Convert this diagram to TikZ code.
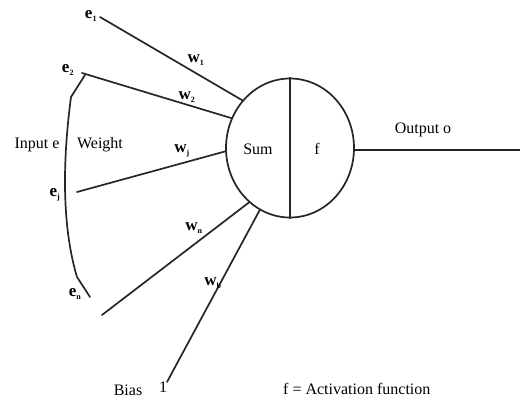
\documentclass[tikz,border=0pt]{standalone}
\usepackage{fontspec}
\setmainfont{Liberation Serif}
\usetikzlibrary{shapes.geometric}
\begin{document}
\begin{tikzpicture}[x=1pt,y=-1pt,
  wire/.style={line width=1.7pt,line join=round,line cap=round,color=black!85},
  txt/.style={inner sep=0pt,font=\fontsize{16}{18}\selectfont},
  lbl/.style={inner sep=0pt,font=\fontsize{17}{19}\selectfont\bfseries},
  neuronshape/.style={ellipse,draw,line width=1.7pt,color=black!85,minimum width=128pt,minimum height=139pt,inner sep=0pt}]
\useasboundingbox (0,0) rectangle (520,399);
\node[neuronshape] (neuron) at (290,148) {};
\node[txt] (sum) at (258,149) {Sum};
\node[txt] (f) at (317,149) {f};
\draw[wire] (neuron.north) -- (neuron.south);
\coordinate (out) at (520,150);
\draw[wire] (neuron.east |- out) -- (out);
\node[txt] (outlbl) at (423,130) {Output o};
% inputs
\coordinate (i1) at (100,17);
\coordinate (i2) at (82,73);
\coordinate (ij) at (77,192);
\coordinate (in) at (102,315);
\coordinate (ib) at (167,382);
\draw[wire] (i1) -- (neuron.135.9);
\draw[wire] (i2) -- (neuron.153.4);
\draw[wire] (ij) -- (neuron.183);
\draw[wire] (in) -- (neuron.233.4);
\draw[wire] (ib) -- (neuron.244.4);
% labels
\node[lbl] (e1) at (91,16) {e\textsubscript{\fontsize{8}{9}\selectfont 1}};
\node[lbl] (e2) at (68,70) {e\textsubscript{\fontsize{8}{9}\selectfont 2}};
\node[lbl] (ej) at (55,195) {e\textsubscript{\fontsize{8}{9}\selectfont j}};
\node[lbl] (en) at (75,294) {e\textsubscript{\fontsize{8}{9}\selectfont n}};
\node[lbl] (w1) at (196,60) {w\textsubscript{\fontsize{8}{9}\selectfont 1}};
\node[lbl] (w2) at (187,97) {w\textsubscript{\fontsize{8}{9}\selectfont 2}};
\node[lbl] (wj) at (182,151) {w\textsubscript{\fontsize{8}{9}\selectfont j}};
\node[lbl] (wn) at (194,228) {w\textsubscript{\fontsize{8}{9}\selectfont n}};
\node[lbl] (wb) at (213,283) {w\textsubscript{\fontsize{8}{9}\selectfont b}};
% bracket
\coordinate (b1) at (85,75);
\coordinate (b2) at (71,97);
\coordinate (b4) at (77,277);
\coordinate (b5) at (90,297);
\draw[wire] (b1) -- (b2) .. controls (64,150) and (60,220) .. (b4) -- (b5);
\node[txt] (input) at (37,145) {Input e};
\node[txt] (weight) at (100,145) {Weight};
\node[txt] (bias) at (128,390) {Bias};
\node[txt] (one) at (163,387) {1};
\node[txt,anchor=west] (act) at (283,389) {f = Activation function};
\end{tikzpicture}
\end{document}
